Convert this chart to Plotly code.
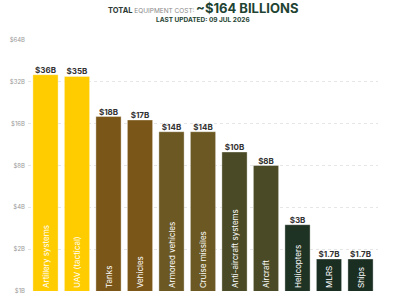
import plotly.graph_objects as go
import math

categories = ["Artillery systems", "UAV (tactical)", "Tanks", "Vehicles", "Armored vehicles",
              "Cruise missiles", "Anti-aircraft systems", "Aircraft", "Helicopters", "MLRS", "Ships"]
values = [36, 35, 18, 17, 14, 14, 10, 8, 3, 1.7, 1.7]
value_labels = ["$36B", "$35B", "$18B", "$17B", "$14B", "$14B", "$10B", "$8B", "$3B", "$1.7B", "$1.7B"]
colors = ["#FFCC00", "#FFCC00", "#7A5618", "#7A5618", "#6B5822", "#6B5822",
          "#4A4A26", "#4A4A26", "#1F3324", "#1B2E22", "#1B2E22"]
tick_vals = [1, 2, 4, 8, 16, 32, 64]
tick_text = ["$1B", "$2B", "$4B", "$8B", "$16B", "$32B", "$64B"]

fig = go.Figure()
fig.add_trace(go.Bar(
    x=categories, y=values,
    marker=dict(color=colors, line=dict(color="rgba(255,255,255,0.35)", width=1)),
    text=categories, textposition="inside", insidetextanchor="start", textangle=-90,
    textfont=dict(family="Inter, Roboto, sans-serif", size=8, color="white"),
    cliponaxis=False, hoverinfo="skip",
))
fig.add_trace(go.Scatter(
    x=categories, y=values, mode="text",
    text=["<b>" + t + "</b>" for t in value_labels], textposition="top center",
    textfont=dict(family="Inter, Roboto, sans-serif", size=8, color="#333333"),
    cliponaxis=False, hoverinfo="skip",
))

fig.update_layout(
    width=400, height=300,
    margin=dict(l=28, r=22, t=40, b=6),
    paper_bgcolor="white", plot_bgcolor="white",
    showlegend=False, bargap=0.2,
    font=dict(family="Inter, Roboto, sans-serif"),
    xaxis=dict(showticklabels=False, showgrid=False, zeroline=False, showline=False, ticks=""),
    yaxis=dict(type="log", range=[0, math.log10(64)], tickvals=tick_vals, ticktext=tick_text,
               tickfont=dict(size=6, color="#999999"), showgrid=True, gridcolor="#E6E6E6",
               griddash="dot", gridwidth=1, zeroline=False, showline=False, ticks="", ticklabelstandoff=2),
    annotations=[
        dict(x=0.5, y=1, xref="paper", yref="paper", yanchor="middle", xanchor="center", yshift=32,
             showarrow=False,
             text="<b><span style='font-size:7.5px;color:#2D3A35'>TOTAL </span></b>"
                  "<span style='font-size:6.5px;color:#8A8A8A'>EQUIPMENT COST: </span>"
                  "<b><span style='font-size:13px;color:#1F4433'>~$164 BILLIONS</span></b>"),
        dict(x=0.5, y=1, xref="paper", yref="paper", yanchor="middle", xanchor="center", yshift=20,
             showarrow=False,
             text="<b><span style='font-size:6.5px;color:#1F4433'>LAST UPDATED: 09 JUL 2026</span></b>"),
    ],
)
fig.write_html("out.html")
